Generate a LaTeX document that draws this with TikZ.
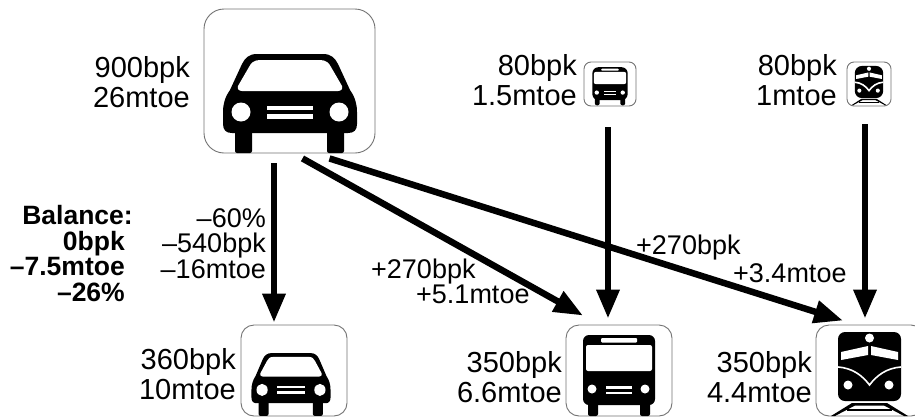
\documentclass[tikz,border=0pt]{standalone}
\usepackage{fontspec}
\setmainfont{Liberation Sans}
\usetikzlibrary{arrows.meta}
\tikzset{
  x=1pt,y=-1pt,
  iconbox/.style={draw=black!55,line width=0.9pt,fill=white,rounded corners=#1,inner sep=0pt},
  iconbox/.default=13pt,
  flow/.style={line width=6.5pt,-{Triangle[length=29pt,width=22pt]}},
  lbl/.style={font=\fontsize{29}{29.5}\selectfont,align=right,anchor=base east,inner sep=0pt},
  lblb/.style={font=\fontsize{27}{25.5}\selectfont,align=right,anchor=base east,inner sep=0pt},
  lblbold/.style={font=\fontsize{26.5}{25.5}\selectfont\bfseries,align=right,anchor=base east,inner sep=0pt},
  caricon/.pic={
    \begin{scope}[shift={(-290,-103.5)}]
      \fill[rounded corners=2pt] (235,125) rectangle (252,153);
      \fill[rounded corners=2pt] (327,125) rectangle (344,153);
      \fill (257,54) -- (323,54) .. controls (331,54) and (335,58) .. (338,64)
        -- (350,90) .. controls (355,97) and (357,104) .. (357,112)
        -- (357,124) .. controls (357,130) and (354,133) .. (348,133)
        -- (232,133) .. controls (226,133) and (223,130) .. (223,124)
        -- (223,112) .. controls (223,104) and (225,97) .. (230,90)
        -- (242,64) .. controls (245,58) and (249,54) .. (257,54) -- cycle;
      \fill[white] (260,60) -- (320,60) .. controls (326,60) and (329,63) .. (331,67)
        -- (342,86) .. controls (343,89) and (341,91) .. (338,91)
        -- (242,91) .. controls (239,91) and (237,89) .. (238,86)
        -- (249,67) .. controls (251,63) and (254,60) .. (260,60) -- cycle;
      \fill[white] (241,112) circle (9.5);
      \fill[white] (339,112) circle (9.5);
      \fill[white] (267,105.5) rectangle (313,109.5);
      \fill[white] (267,114) rectangle (313,118.5);
    \end{scope}
  },
  busicon/.pic={
    \begin{scope}[shift={(-619,-375)}]
      \fill[rounded corners=2pt] (588,398) rectangle (598,416);
      \fill[rounded corners=2pt] (640,398) rectangle (650,416);
      \fill[rounded corners=6pt] (583,335) rectangle (655,405);
      \fill[white,rounded corners=2pt] (586,345) rectangle (652,371);
      \fill[white,rounded corners=1pt] (601,338) rectangle (637,342.5);
      \fill[white] (592,389) circle (4.5);
      \fill[white] (645,389) circle (4.5);
      \fill[white] (606,386) rectangle (632,388.5);
      \fill[white] (606,391.5) rectangle (632,394);
    \end{scope}
  },
  trainicon/.pic={
    \begin{scope}[shift={(-869.5,-374)}]
      \fill[rounded corners=7pt] (838,332) rectangle (901,401);
      \fill[white] (869.5,338) circle (4.5);
      \fill[white] (841,352) -- (868,346) -- (868,355) -- (841,360) -- cycle;
      \fill[white] (898,352) -- (871,346) -- (871,355) -- (898,360) -- cycle;
      \draw[white,line width=1.6pt] (838,367) .. controls (852,368) and (862,375) .. (869.5,385)
        .. controls (877,375) and (887,368) .. (901,367);
      \fill[white] (848,385) circle (4.5);
      \fill[white] (889,385) circle (4.5);
      \fill (852,403) -- (887,403) -- (908,416) -- (904,416) -- (884,405.5) -- (855,405.5) -- (835,416) -- (831,416) -- cycle;
      \fill (847,408.5) rectangle (892,411);
    \end{scope}
  }
}
\begin{document}
\begin{tikzpicture}
\useasboundingbox (0,0) rectangle (915,418);
% boxes
\node[iconbox=20pt,minimum width=171pt,minimum height=144pt] (bigcar) at (289.5,81) {};
\node[iconbox,minimum width=106pt,minimum height=91pt] (smallcar) at (294,370.5) {};
\node[iconbox,minimum width=106pt,minimum height=91pt] (bigbus) at (619,370.5) {};
\node[iconbox,minimum width=108pt,minimum height=91pt] (bigtrain) at (870,370.5) {};
\node[iconbox=7pt,minimum width=52pt,minimum height=44pt] (smallbus) at (610,84) {};
\node[iconbox=7pt,minimum width=44pt,minimum height=44pt] (smalltrain) at (869,84) {};
% icons
\pic at (290,103.5) {caricon};
\pic[xscale=.59,yscale=.635] at (291,384.5) {caricon};
\pic at (619,375) {busicon};
\pic[xscale=.49,yscale=.47] at (610,86) {busicon};
\pic at (869.5,374) {trainicon};
\pic[xscale=.45,yscale=.465] at (869,85.5) {trainicon};
% connectors
\draw[flow] ([shift={(-15.5,10)}]bigcar.south) -- ([shift={(-20,-2)}]smallcar.north);
\draw[flow] ([shift={(13,5)}]bigcar.south) -- ([shift={(-36,-9)}]bigbus.north);
\draw[flow] ([shift={(40,5)}]bigcar.south) -- ([shift={(-27,-4)}]bigtrain.north);
\draw[flow] ([shift={(-2,21)}]smallbus.south) -- ([shift={(-11,-6)}]bigbus.north);
\draw[flow] ([shift={(-4,18)}]smalltrain.south) -- ([shift={(-5,-6)}]bigtrain.north);
% labels
\node[lbl] (l1) at (190,107) {900bpk\\26mtoe};
\node[lbl] (l2) at (577,105) {80bpk\\1.5mtoe};
\node[lbl] (l3) at (837,105) {80bpk\\1mtoe};
\node[lbl] (l4) at (236,399) {360bpk\\10mtoe};
\node[lbl] (l5) at (562,402) {350bpk\\6.6mtoe};
\node[lbl] (l6) at (812,402) {350bpk\\4.4mtoe};
\node[lblb] (l7) at (266,278) {–60\%\\–540bpk\\–16mtoe};
\node[lblbold] (l8) at (125,301) {Balance:\kern-8pt\\0bpk\\–7.5mtoe\\–26\%};
\node[lblb,anchor=base west] (l9) at (371,278) {+270bpk};
\node[lblb,anchor=base west] (l10) at (416,303) {+5.1mtoe};
\node[lblb,anchor=base west] (l11) at (636,254) {+270bpk};
\node[lblb,anchor=base west] (l12) at (733,282) {+3.4mtoe};
\end{tikzpicture}
\end{document}
